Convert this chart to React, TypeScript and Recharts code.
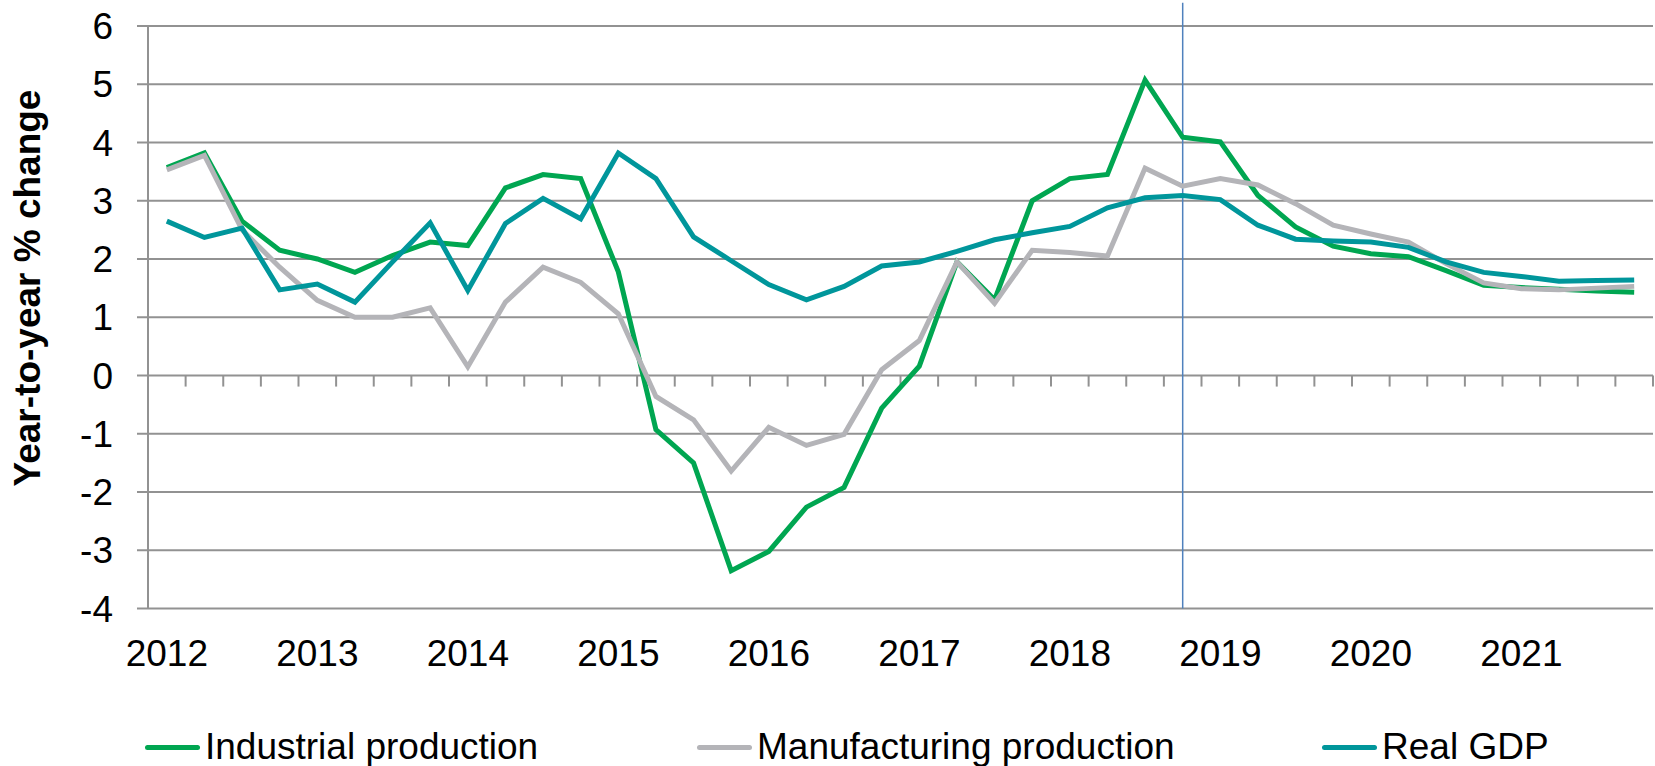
import {
  LineChart,
  Line,
  XAxis,
  YAxis,
  CartesianGrid,
  ReferenceLine,
  Legend,
  Label,
} from "recharts";

const YEARS = ["2012", "2013", "2014", "2015", "2016", "2017", "2018", "2019", "2020", "2021"];
const QUARTERS = ["Q1", "Q2", "Q3", "Q4"];

// year-to-year % change, quarterly 2012Q1 .. 2021Q4
const INDUSTRIAL = [
  3.57, 3.82, 2.65, 2.15, 2.0, 1.77, 2.06, 2.29, 2.23, 3.22, 3.45, 3.38, 1.78, -0.93, -1.5, -3.35, -3.02, -2.26, -1.92,
  -0.56, 0.16, 1.95, 1.3, 3.0, 3.38, 3.45, 5.07, 4.09, 4.01, 3.09, 2.55, 2.22, 2.09, 2.04, 1.8, 1.55, 1.51, 1.48, 1.45,
  1.43,
];
const MANUFACTURING = [
  3.53, 3.78, 2.5, 1.86, 1.29, 1.0, 1.0, 1.16, 0.15, 1.26, 1.86, 1.6, 1.06, -0.36, -0.76, -1.64, -0.89, -1.2, -1.01, 0.1,
  0.6, 1.95, 1.24, 2.15, 2.11, 2.05, 3.56, 3.25, 3.38, 3.27, 2.95, 2.58, 2.43, 2.29, 1.92, 1.59, 1.49, 1.47, 1.5, 1.53,
];
const REAL_GDP = [
  2.65, 2.37, 2.53, 1.47, 1.57, 1.26, 1.95, 2.62, 1.46, 2.61, 3.04, 2.69, 3.82, 3.38, 2.38, 1.97, 1.56, 1.3, 1.53, 1.88,
  1.95, 2.13, 2.33, 2.45, 2.56, 2.88, 3.05, 3.09, 3.02, 2.58, 2.34, 2.31, 2.29, 2.2, 1.95, 1.77, 1.7, 1.62, 1.63, 1.64,
];

const Y_TICKS = [-4, -3, -2, -1, 0, 1, 2, 3, 4, 5, 6];
const MARKER_QUARTER = "2018Q4";

const CATEGORIES = YEARS.flatMap((y) => QUARTERS.map((q) => y + q));
const data = CATEGORIES.map((c, i) => ({
  t: i,
  label: c,
  ip: INDUSTRIAL[i],
  mp: MANUFACTURING[i],
  gdp: REAL_GDP[i],
}));
const yearTicks = YEARS.map((_, k) => k * QUARTERS.length);
const boundaries = Array.from({ length: CATEGORIES.length + 1 }, (_, k) => k - 0.5);
const markerX = CATEGORIES.indexOf(MARKER_QUARTER);

const FONT = '"Liberation Sans", Arial, sans-serif';
const GRID = "#929292";
const LEGEND_X = [145, 697, 1322];

const renderLegend = (props: any) => {
  const items = props.payload || [];
  return (
    <div style={{ position: "relative", height: 44, fontFamily: FONT }}>
      {items.map((entry: any, i: number) => (
        <div
          key={entry.value}
          style={{
            position: "absolute",
            left: LEGEND_X[i],
            top: 0,
            display: "flex",
            alignItems: "center",
            whiteSpace: "nowrap",
          }}
        >
          <span
            style={{
              display: "inline-block",
              width: 55,
              height: 5,
              borderRadius: 2.5,
              background: entry.color,
              marginRight: 5,
            }}
          />
          <span style={{ fontSize: 37, color: "#000" }}>{entry.value}</span>
        </div>
      ))}
    </div>
  );
};

export default function App() {
  return (
    <div style={{ position: "absolute", left: 0, top: 0, width: 1655, height: 766, background: "#fff" }}>
      <LineChart width={1655} height={766} data={data} margin={{ top: 26, right: 2, left: 0, bottom: 97.5 }}>
        <CartesianGrid vertical={false} stroke={GRID} strokeWidth={2} />
        <XAxis
          type="number"
          dataKey="t"
          domain={[-0.5, CATEGORIES.length - 0.5]}
          ticks={yearTicks}
          tickFormatter={(v: number) => YEARS[v / QUARTERS.length]}
          axisLine={false}
          tickLine={false}
          tickSize={0}
          tickMargin={31}
          height={60}
          interval={0}
          tick={{ fill: "#000", fontSize: 37, fontFamily: FONT }}
        />
        <YAxis
          domain={[-4, 6]}
          ticks={Y_TICKS}
          interval={0}
          width={148}
          tickSize={11}
          tickMargin={24}
          axisLine={{ stroke: GRID, strokeWidth: 2 }}
          tickLine={{ stroke: GRID, strokeWidth: 2 }}
          tick={{ fill: "#000", fontSize: 37, fontFamily: FONT }}
        >
          <Label
            content={() => (
              <text
                x={27.5}
                y={288}
                transform="rotate(-90 27.5 288)"
                textAnchor="middle"
                dominantBaseline="central"
                fontFamily={FONT}
                fontWeight="bold"
                fontSize={37}
                fill="#000"
              >
                Year-to-year % change
              </text>
            )}
          />
        </YAxis>
        {boundaries.map((b) => (
          <ReferenceLine
            key={b}
            segment={[
              { x: b, y: 0 },
              { x: b, y: -0.19 },
            ]}
            stroke={GRID}
            strokeWidth={2}
          />
        ))}
        <ReferenceLine
          segment={[
            { x: markerX, y: -4 },
            { x: markerX, y: 6.4 },
          ]}
          ifOverflow="visible"
          stroke="#4f81bd"
          strokeWidth={1.5}
        />
        <Line
          type="linear"
          dataKey="ip"
          name="Industrial production"
          stroke="#00a651"
          strokeWidth={5}
          dot={false}
          isAnimationActive={false}
        />
        <Line
          type="linear"
          dataKey="mp"
          name="Manufacturing production"
          stroke="#b4b4b8"
          strokeWidth={5}
          dot={false}
          isAnimationActive={false}
        />
        <Line
          type="linear"
          dataKey="gdp"
          name="Real GDP"
          stroke="#00969b"
          strokeWidth={5}
          dot={false}
          isAnimationActive={false}
        />
        <Legend
          layout="horizontal"
          verticalAlign="middle"
          align="center"
          content={renderLegend}
          wrapperStyle={{ position: "absolute", left: 0, top: 726, width: 1655, height: 44 }}
        />
      </LineChart>
    </div>
  );
}
